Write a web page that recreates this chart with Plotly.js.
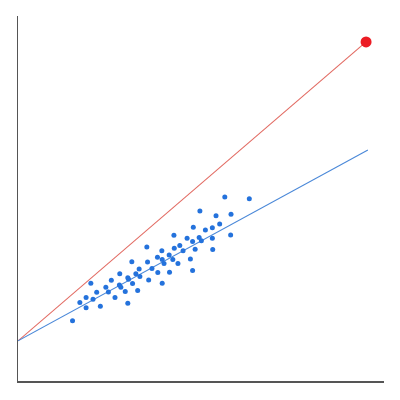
<!DOCTYPE html>
<html>
<head>
<meta charset="utf-8">
<script src="https://cdn.plot.ly/plotly-3.0.1.min.js"></script>
<style>
  html, body { margin: 0; padding: 0; background: #fff; }
  #chart { width: 400px; height: 400px; }
</style>
</head>
<body>
<div id="chart"></div>
<script>
/* scatter sample (x, y) */
var sampleX = [1.49, 1.69, 1.86, 1.86, 1.99, 2.05, 2.15, 2.25, 2.40, 2.47,
               2.55, 2.65, 2.78, 2.77, 2.81, 2.93, 3.00, 3.00, 3.02, 3.11,
               3.13, 3.22, 3.27, 3.31, 3.33, 3.52, 3.54, 3.57, 3.66, 3.81,
               3.82, 3.93, 3.94, 3.94, 3.99, 4.13, 4.14, 4.23, 4.26, 4.27,
               4.37, 4.42, 4.51, 4.62, 4.71, 4.77, 4.79, 4.77, 4.84, 4.95,
               4.97, 5.01, 5.12, 5.31, 5.31, 5.32, 5.41, 5.51, 5.65, 5.81,
               5.82, 6.32];
var sampleY = [1.65, 2.15, 2.29, 2.01, 2.68, 2.24, 2.43, 2.05, 2.57, 2.44,
               2.76, 2.29, 2.94, 2.63, 2.57, 2.45, 2.83, 2.13, 2.79, 3.27,
               2.67, 2.94, 2.48, 3.07, 2.86, 3.67, 3.26, 2.77, 3.08, 3.39,
               2.97, 3.57, 3.33, 2.68, 3.22, 3.45, 2.98, 3.33, 3.99, 3.64,
               3.22, 3.71, 3.57, 3.91, 3.34, 3.03, 4.21, 3.82, 3.61, 3.93,
               4.66, 3.84, 4.14, 4.20, 3.91, 3.60, 4.53, 4.30, 5.04, 4.00,
               4.57, 4.99];

/* fitted line through the sample */
var fitX = [0, 9.56];
var fitY = [1.10, 6.33];

/* reference line to the highlighted point */
var refX = [0, 9.51];
var refY = [1.10, 9.29];
var pointX = [9.51];
var pointY = [9.29];

var C = {
  axis:  '#555555',
  dots:  '#2472dc',
  fit:   '#4a88d8',
  ref:   '#e26a62',
  point: '#ec1c24'
};

Plotly.newPlot('chart', [
  {
    type: 'scatter', mode: 'lines',
    x: refX, y: refY,
    line: { color: C.ref, width: 1.1 },
    hoverinfo: 'skip'
  },
  {
    type: 'scatter', mode: 'lines',
    x: fitX, y: fitY,
    line: { color: C.fit, width: 1.1 },
    hoverinfo: 'skip'
  },
  {
    type: 'scatter', mode: 'markers',
    x: sampleX, y: sampleY,
    marker: { color: C.dots, size: 5 }
  },
  {
    type: 'scatter', mode: 'markers',
    x: pointX, y: pointY,
    marker: { color: C.point, size: 11 }
  }
], {
  width: 400, height: 400,
  paper_bgcolor: '#ffffff',
  plot_bgcolor: '#ffffff',
  showlegend: false,
  margin: { l: 18, r: 16, t: 16, b: 19 },
  xaxis: {
    range: [0, 10], showgrid: false, zeroline: false,
    showticklabels: false, ticks: '',
    showline: true, linecolor: C.axis, linewidth: 1.5
  },
  yaxis: {
    range: [0, 10], showgrid: false, zeroline: false,
    showticklabels: false, ticks: '',
    showline: true, linecolor: C.axis, linewidth: 1.5
  }
}, { displayModeBar: false, staticPlot: true });
</script>
</body>
</html>
